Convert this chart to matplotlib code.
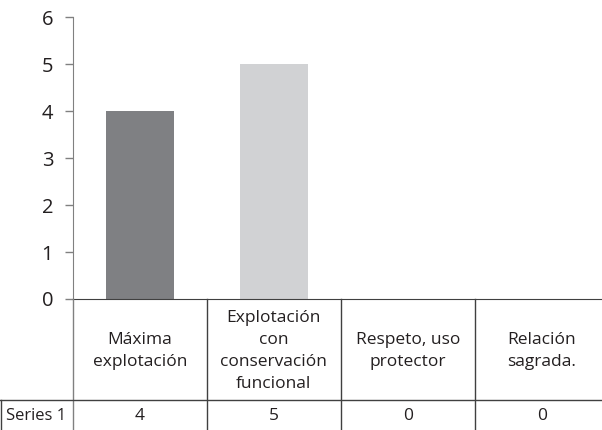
import matplotlib
matplotlib.use("Agg")
import matplotlib.pyplot as plt

# chart data
categories = ["Máxima\nexplotación", "Explotación\ncon\nconservación\nfuncional",
              "Respeto, uso\nprotector", "Relación\nsagrada."]
values = [4, 5, 0, 0]
series_name = "Series 1"
bar_colors = ["#7f8083", "#d1d2d4", "#7f8083", "#d1d2d4"]
yticks = [0, 1, 2, 3, 4, 5, 6]

W, H = 602, 430
plt.rcParams["font.family"] = ["Open Sans", "DejaVu Sans"]

fig = plt.figure(figsize=(W / 100, H / 100), dpi=100)

# pixel layout of the plot area
x0, x1 = 72.7, 609.0
y_top, y_zero = 17.3, 299.0
ax = fig.add_axes([x0 / W, 1 - y_zero / H, (x1 - x0) / W, (y_zero - y_top) / H])

xs = list(range(len(categories)))
ax.bar(xs, values, width=0.51, color=bar_colors, zorder=2)
ax.set_xlim(-0.5, len(categories) - 0.5)
ax.set_ylim(0, 6)
ax.set_yticks(yticks)
ax.set_xticks([])
ax.tick_params(axis="y", direction="out", length=6, width=1, color="#808080",
               labelsize=14.5, pad=8, labelcolor="#231f20")
for s in ("top", "right"):
    ax.spines[s].set_visible(False)
ax.spines["left"].set_color("#808080")
ax.spines["bottom"].set_color("#404040")

# data table under the axis, y measured in pixels from the zero line
tab_h = H - y_zero
tab = fig.add_axes([x0 / W, 0, (x1 - x0) / W, tab_h / H], sharex=ax)
tab.set_ylim(tab_h, 0)
tab.axis("off")
row_y = 400 - y_zero
left_edge = -0.5 - x0 / 134.0
line_kw = dict(color="#404040", lw=1, clip_on=False)

tab.plot([-0.5, -0.5], [0, tab_h], color="#808080", lw=1, clip_on=False)
for i in xs[1:]:
    tab.plot([i - 0.5, i - 0.5], [0, tab_h], **line_kw)
tab.plot([left_edge, len(categories) - 0.5], [row_y, row_y], **line_kw)
tab.plot([left_edge + 0.006, left_edge + 0.006], [row_y, tab_h], **line_kw)

txt = "#231f20"
fs = 12.5
for i, (cat, v) in enumerate(zip(categories, values)):
    tab.text(i, row_y / 2 + 1, cat, ha="center", va="center", fontsize=fs,
             linespacing=1.5, color=txt)
    tab.text(i, (row_y + tab_h) / 2 + 1, str(v), ha="center", va="center",
             fontsize=fs, color=txt)
tab.text((left_edge - 0.5) / 2, (row_y + tab_h) / 2 + 1, series_name,
         ha="center", va="center", fontsize=fs - 0.5, color=txt)

fig.savefig("out.png", dpi=100)
